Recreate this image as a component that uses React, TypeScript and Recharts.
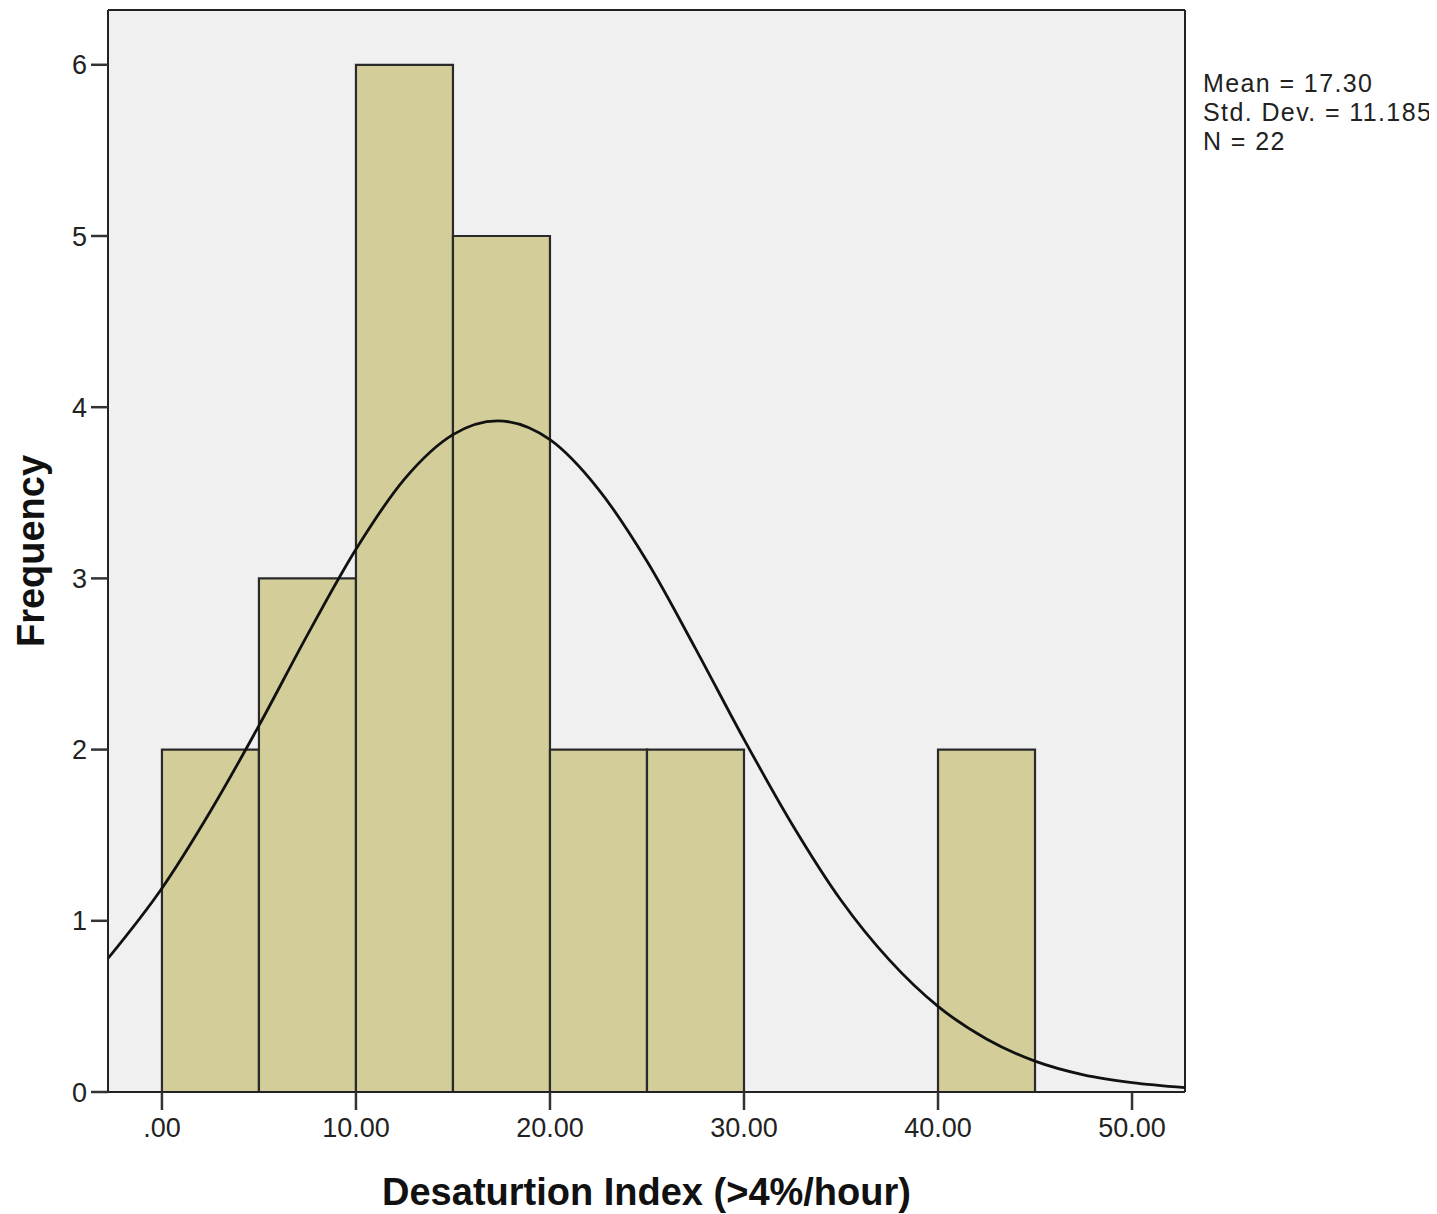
import React from 'react';
import { ComposedChart, XAxis, YAxis, Line, ReferenceArea, ReferenceLine, CartesianGrid, Label } from 'recharts';

// Histogram bins (Desaturation index, >4%/hour)
const binStarts = [0, 5, 10, 15, 20, 25, 40];
const binEnds = [5, 10, 15, 20, 25, 30, 45];
const binCounts = [2, 3, 6, 5, 2, 2, 2];

// Normal curve
const curveX = [-2.78, 0, 2.5, 5, 7.5, 10, 12.5, 15, 17.3, 20, 22.5, 25, 27.5, 30, 32.5, 35, 37.5, 40, 42.5, 45, 47.5, 50, 52.73];
const curveY = [0.78, 1.19, 1.64, 2.14, 2.67, 3.17, 3.58, 3.84, 3.92, 3.81, 3.52, 3.1, 2.59, 2.06, 1.56, 1.12, 0.77, 0.5, 0.31, 0.18, 0.1, 0.055, 0.026];

const xTicks = [0, 10, 20, 30, 40, 50];
const yTicks = [0, 1, 2, 3, 4, 5, 6];
const statLines = ['Mean = 17.30', 'Std. Dev. = 11.185', 'N = 22'];

const X_MIN = -2.78;
const X_MAX = 52.73;
const Y_MAX = 6.32;

const curveData = curveX.map((x, i) => ({ x, y: curveY[i] }));

const FONT = '"Liberation Sans", Arial, sans-serif';
const fmtX = (v: number) => (v === 0 ? '.00' : v.toFixed(2));

export default function App() {
  return (
    <ComposedChart
      width={1429}
      height={1206}
      data={curveData}
      margin={{ top: 2, right: 252, left: 0, bottom: 0 }}
      style={{ fontFamily: FONT }}
    >
      <CartesianGrid fill="#f0f0f0" horizontal={false} vertical={false} stroke="none" />
      <XAxis
        type="number"
        dataKey="x"
        domain={[X_MIN, X_MAX]}
        allowDataOverflow
        ticks={xTicks}
        tickFormatter={fmtX}
        height={122}
        tickSize={18}
        tickMargin={8}
        stroke="#222"
        strokeWidth={2}
        tick={{ fill: '#222', fontSize: 27, fontFamily: FONT }}
        tickLine={{ stroke: '#333', strokeWidth: 2.5 }}
      >
        <Label
          value="Desaturtion Index (>4%/hour)"
          position="insideBottom"
          offset={9}
          style={{ fontSize: 38, fontWeight: 'bold', fill: '#111', fontFamily: FONT }}
        />
      </XAxis>
      <YAxis
        type="number"
        domain={[0, Y_MAX]}
        allowDataOverflow
        ticks={yTicks}
        width={100}
        tickSize={17}
        tickMargin={4}
        stroke="#222"
        strokeWidth={2}
        tick={{ fill: '#222', fontSize: 27, fontFamily: FONT }}
        tickLine={{ stroke: '#333', strokeWidth: 2.5 }}
      >
        <Label
          content={(props: any) => {
            const vb = props.viewBox || { x: 0, y: 0, width: 100, height: 1082 };
            const cx = vb.x + 23;
            const cy = vb.y + vb.height / 2;
            return (
              <text
                x={cx}
                y={cy}
                transform={`rotate(-90, ${cx}, ${cy})`}
                textAnchor="middle"
                dominantBaseline="central"
                style={{ fontSize: 38, fontWeight: 'bold', fill: '#111', fontFamily: FONT }}
              >
                Frequency
              </text>
            );
          }}
        />
      </YAxis>
      <ReferenceLine y={Y_MAX} stroke="#222" strokeWidth={2} ifOverflow="extendDomain" />
      <ReferenceLine x={X_MAX} stroke="#222" strokeWidth={2} ifOverflow="extendDomain" />
      {binStarts.map((s, i) => (
        <ReferenceArea
          key={i}
          x1={s}
          x2={binEnds[i]}
          y1={0}
          y2={binCounts[i]}
          fill="#d3ce99"
          fillOpacity={1}
          stroke="#2a2a2a"
          strokeWidth={2.2}
        />
      ))}
      <Line
        type="monotone"
        dataKey="y"
        stroke="#111"
        strokeWidth={2.8}
        dot={false}
        isAnimationActive={false}
      />
      <text x={1195} y={84} style={{ fontSize: 25, letterSpacing: 1.4, fill: '#222', fontFamily: FONT }}>
        {statLines.map((t, i) => (
          <tspan key={i} x={1195} y={84 + i * 29}>
            {t}
          </tspan>
        ))}
      </text>
    </ComposedChart>
  );
}
